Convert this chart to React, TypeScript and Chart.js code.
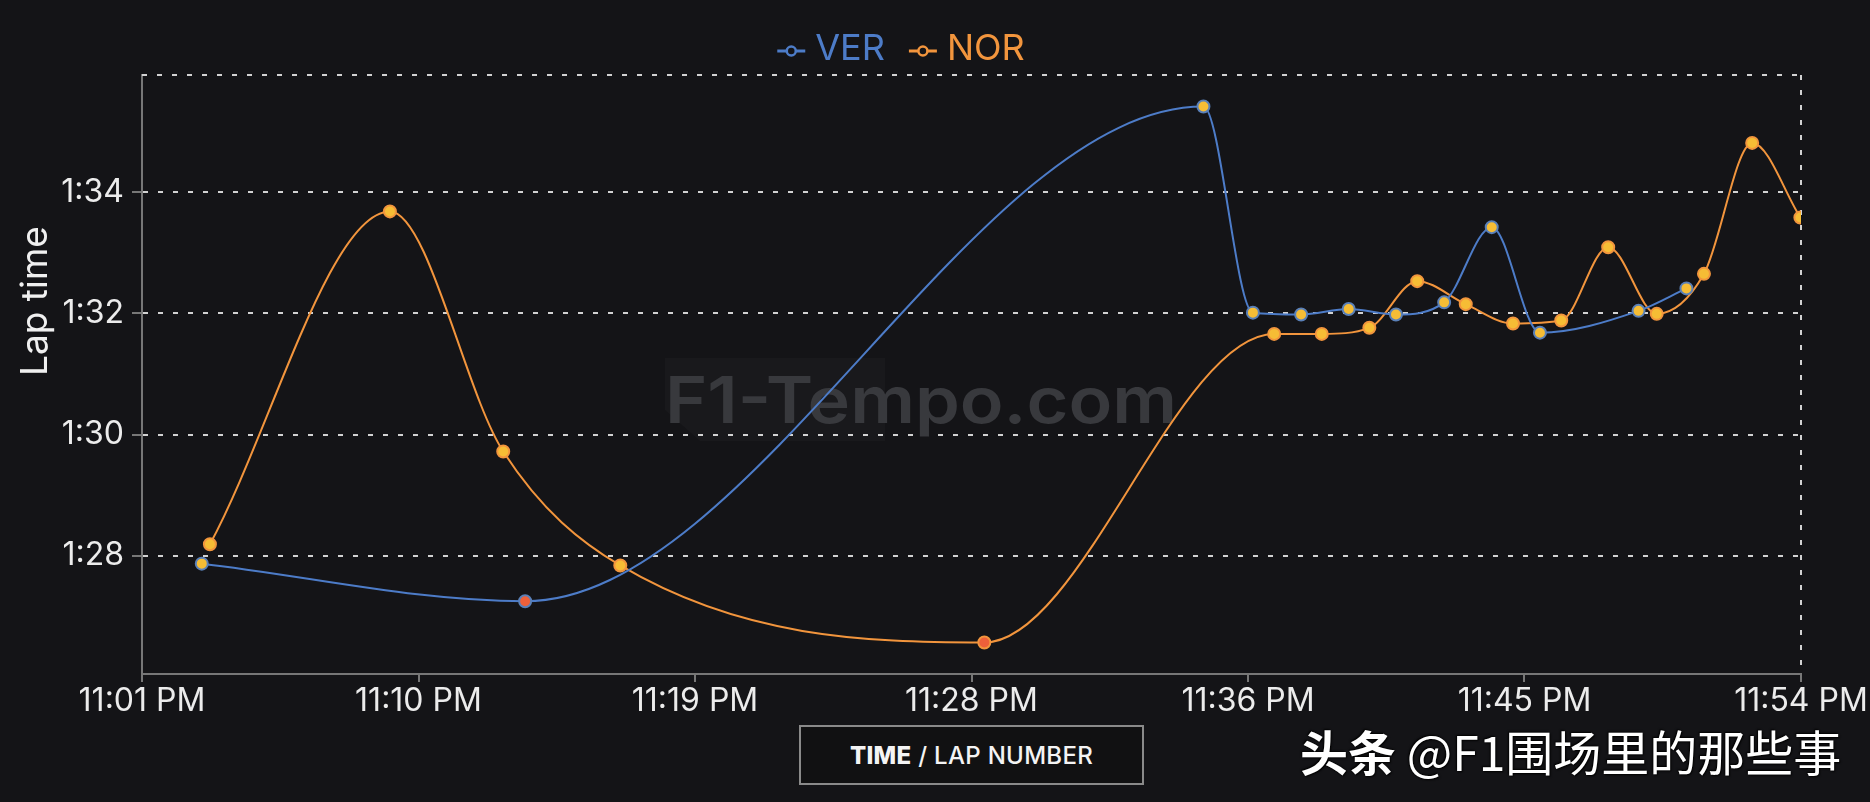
import React, { useEffect, useRef } from 'react';
import { Chart, registerables } from 'chart.js';

Chart.register(...registerables);

// x values: minutes after 11:00 PM; y values: lap time in seconds
const VER_TIMES = [2.91, 13.24, 34.91, 36.49, 38.03, 39.55, 41.06, 42.6, 44.12, 45.66, 48.81, 50.34];
const VER_LAPS = [87.87, 87.25, 95.41, 92.01, 91.98, 92.07, 91.98, 92.18, 93.42, 91.68, 92.04, 92.41];
const VER_PIT = [1];

const NOR_TIMES = [3.17, 8.92, 12.54, 16.28, 27.91, 37.17, 38.69, 40.21, 41.74, 43.29, 44.8, 46.34, 47.84, 49.39, 50.9, 52.44, 53.98];
const NOR_LAPS = [88.19, 93.68, 89.72, 87.84, 86.57, 91.66, 91.66, 91.76, 92.53, 92.15, 91.83, 91.88, 93.09, 91.99, 92.65, 94.81, 93.58];
const NOR_PIT = [4];

const X_MIN = 1;
const X_MAX = 54;
const X_TICK_LABELS = ['11:01 PM', '11:10 PM', '11:19 PM', '11:28 PM', '11:36 PM', '11:45 PM', '11:54 PM'];
const Y_TICKS = [88, 90, 92, 94];

const BG = '#141417';
const VER_COLOR = '#4d7cc8';
const NOR_COLOR = '#f2953d';
const POINT_FILL = '#f6bd35';
const PIT_FILL = '#ee603a';
const FONT = "Inter, 'Noto Sans', sans-serif";

const fmtLap = (v: number) => {
  const m = Math.floor(v / 60);
  const s = Math.round(v - m * 60);
  return `${m}:${String(s).padStart(2, '0')}`;
};

const decorPlugin = {
  id: 'decor',
  beforeDatasetsDraw(chart: any) {
    const { ctx, chartArea } = chart;
    const { left, right, top, bottom } = chartArea;
    ctx.save();
    // watermark
    ctx.fillStyle = 'rgba(255,255,255,0.025)';
    ctx.beginPath();
    ctx.moveTo(665, 358);
    ctx.lineTo(885, 358);
    ctx.lineTo(885, 441);
    ctx.lineTo(700, 441);
    ctx.lineTo(665, 410);
    ctx.closePath();
    ctx.fill();
    ctx.font = `600 64px ${FONT}`;
    ctx.fillStyle = '#38393d';
    ctx.textBaseline = 'alphabetic';
    ctx.textAlign = 'left';
    const wm = 'F1-Tempo.com';
    const w = ctx.measureText(wm).width;
    ctx.translate(665, 423);
    ctx.scale(512 / w, 1);
    ctx.fillText(wm, 0, 0);
    ctx.restore();

    ctx.save();
    ctx.strokeStyle = '#d2d2d2';
    ctx.lineWidth = 2;
    ctx.setLineDash([5, 10]);
    ctx.beginPath();
    ctx.moveTo(left, top);
    ctx.lineTo(right, top);
    ctx.moveTo(right, top);
    ctx.lineTo(right, bottom);
    ctx.stroke();
    ctx.restore();
  },
  afterDraw(chart: any) {
    const { ctx } = chart;
    ctx.save();
    // legend
    ctx.font = `400 36px ${FONT}`;
    ctx.textBaseline = 'middle';
    ctx.textAlign = 'left';
    const items = chart.data.datasets.map((d: any) => ({ label: d.label, color: d.borderColor }));
    const symW = 28, gap = 10, itemGap = 24;
    let total = 0;
    items.forEach((it: any, i: number) => {
      it.tw = ctx.measureText(it.label).width;
      total += symW + gap + it.tw + (i > 0 ? itemGap : 0);
    });
    let x = 901 - total / 2;
    const y = 49;
    items.forEach((it: any) => {
      ctx.strokeStyle = it.color;
      ctx.lineWidth = 3;
      ctx.beginPath();
      ctx.moveTo(x, y + 2);
      ctx.lineTo(x + symW, y + 2);
      ctx.stroke();
      ctx.beginPath();
      ctx.arc(x + symW / 2, y + 2, 4.5, 0, Math.PI * 2);
      ctx.fillStyle = BG;
      ctx.fill();
      ctx.lineWidth = 2.5;
      ctx.stroke();
      ctx.fillStyle = it.color;
      ctx.fillText(it.label, x + symW + gap, y);
      x += symW + gap + it.tw + itemGap;
    });
    // y axis title
    ctx.translate(36, 301);
    ctx.rotate(-Math.PI / 2);
    ctx.textAlign = 'center';
    ctx.fillStyle = '#f0f0f0';
    ctx.font = `400 37px ${FONT}`;
    ctx.fillText('Lap time', 0, 0);
    ctx.restore();
  },
};

function pointFills(n: number, pit: number[]) {
  return Array.from({ length: n }, (_, i) => (pit.includes(i) ? PIT_FILL : POINT_FILL));
}

export default function App() {
  const ref = useRef<HTMLCanvasElement>(null);
  useEffect(() => {
    document.body.style.margin = '0';
    document.body.style.background = BG;
    const all = [...VER_LAPS, ...NOR_LAPS];
    const yMin = Math.min(...all) - 0.52;
    const yMax = Math.max(...all) + 0.52;
    const chart = new Chart(ref.current as HTMLCanvasElement, {
      type: 'line',
      data: {
        datasets: [
          {
            label: 'VER',
            data: VER_TIMES.map((t, i) => ({ x: t, y: VER_LAPS[i] })),
            borderColor: VER_COLOR,
            borderWidth: 2,
            pointBackgroundColor: pointFills(VER_TIMES.length, VER_PIT),
            pointBorderColor: '#5a80b8',
            pointBorderWidth: 2,
            pointRadius: 6,
            cubicInterpolationMode: 'monotone',
            fill: false,
          },
          {
            label: 'NOR',
            data: NOR_TIMES.map((t, i) => ({ x: t, y: NOR_LAPS[i] })),
            borderColor: NOR_COLOR,
            borderWidth: 2,
            pointBackgroundColor: pointFills(NOR_TIMES.length, NOR_PIT),
            pointBorderColor: NOR_COLOR,
            pointBorderWidth: 2,
            pointRadius: 6,
            cubicInterpolationMode: 'monotone',
            fill: false,
          },
        ],
      },
      options: {
        responsive: false,
        animation: false,
        layout: { padding: { left: 0, right: 69, top: 75, bottom: 0 } },
        plugins: { legend: { display: false }, tooltip: { enabled: false } },
        scales: {
          x: {
            type: 'linear',
            min: X_MIN,
            max: X_MAX,
            afterFit: (s: any) => { s.height = 128; },
            afterBuildTicks: (s: any) => {
              s.ticks = X_TICK_LABELS.map((_, i) => ({ value: X_MIN + ((X_MAX - X_MIN) * i) / (X_TICK_LABELS.length - 1) }));
            },
            ticks: {
              color: '#ececec',
              font: { family: FONT, size: 32 },
              padding: 0,
              maxRotation: 0,
              autoSkip: false,
              callback: (_v: any, i: number) => X_TICK_LABELS[i],
            },
            grid: { drawOnChartArea: false, drawTicks: true, tickLength: 8, color: '#777', lineWidth: 2 },
            border: { display: true, color: '#777', width: 2 },
          },
          y: {
            type: 'linear',
            min: yMin,
            max: yMax,
            afterFit: (s: any) => { s.width = 142; },
            afterBuildTicks: (s: any) => {
              s.ticks = Y_TICKS.map((v) => ({ value: v }));
            },
            ticks: {
              color: '#ececec',
              font: { family: FONT, size: 32 },
              padding: 8,
              callback: (v: any) => fmtLap(Number(v)),
            },
            grid: {
              color: '#d2d2d2',
              lineWidth: 2,
              tickColor: '#777',
              tickLength: 10,
              tickBorderDash: [],
            },
            border: { display: true, color: '#777', width: 2, dash: [5, 10] },
          },
        },
      },
      plugins: [decorPlugin],
    } as any);
    return () => chart.destroy();
  }, []);

  return (
    <div style={{ position: 'fixed', left: 0, top: 0, width: 1870, height: 802, background: BG, overflow: 'hidden' }}>
      <canvas ref={ref} width={1870} height={802} style={{ width: 1870, height: 802, display: 'block' }} />
      <div
        style={{
          position: 'absolute', left: 799, top: 725, width: 345, height: 60, boxSizing: 'border-box',
          border: '2px solid #8a8a8a', background: '#111112', color: '#f4f4f4',
          fontFamily: FONT, fontSize: 24, display: 'flex', alignItems: 'center', justifyContent: 'center',
          letterSpacing: 0.3,
        }}
      >
        <span style={{ fontWeight: 800 }}>TIME</span>
        <span style={{ fontWeight: 500 }}>&nbsp;/ LAP NUMBER</span>
      </div>
      <div
        style={{
          position: 'absolute', left: 1300, top: 722, whiteSpace: 'nowrap', color: '#ffffff',
          fontFamily: "'Noto Sans CJK SC', sans-serif", fontSize: 48, lineHeight: '56px',
          textShadow: '1px 1px 2px #000, -1px -1px 2px #000',
        }}
      >
        <span style={{ fontWeight: 700 }}>头条</span>
        <span style={{ fontWeight: 400 }}> @F1围场里的那些事</span>
      </div>
    </div>
  );
}
